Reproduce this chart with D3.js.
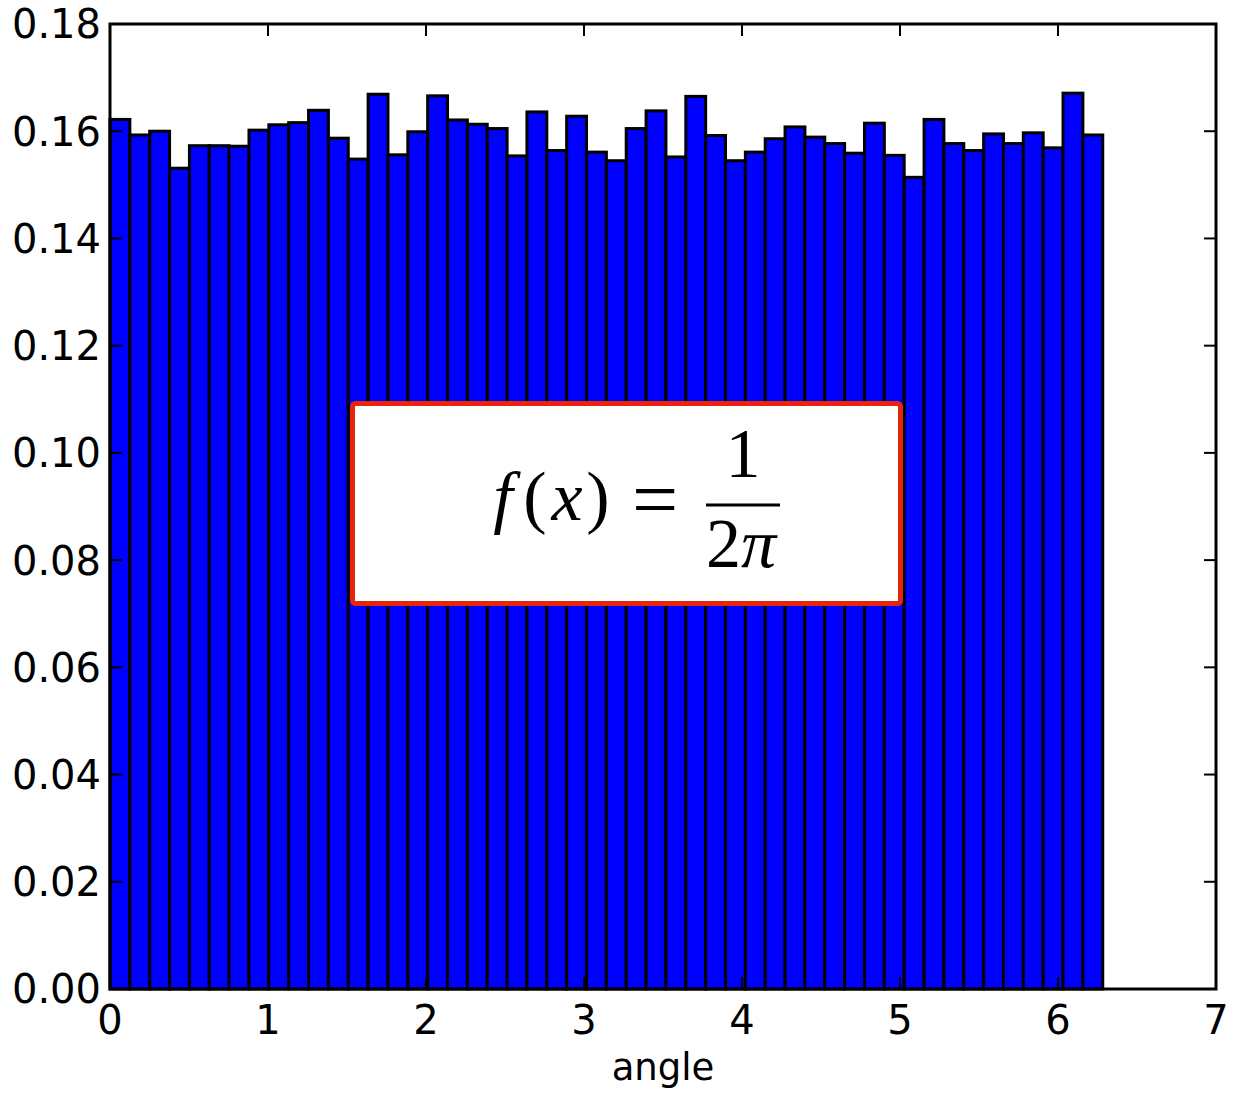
<!DOCTYPE html>
<html>
<head>
<meta charset="utf-8">
<script src="https://cdn.jsdelivr.net/npm/d3@7"></script>
<style>
  html, body { margin: 0; padding: 0; background: #fff; }
</style>
</head>
<body>
<svg id="chart" width="1236" height="1096"></svg>
<script>
// Normalised histogram of angles drawn uniformly from [0, 2π), 50 bins
const binCount = 50;
const rangeMax = 2 * Math.PI;
const densities = [
  0.1622, 0.1593, 0.1600, 0.1531, 0.1573, 0.1573, 0.1572, 0.1602, 0.1612, 0.1616,
  0.1639, 0.1587, 0.1548, 0.1669, 0.1556, 0.1599, 0.1666, 0.1621, 0.1613, 0.1605,
  0.1554, 0.1636, 0.1564, 0.1628, 0.1561, 0.1545, 0.1605, 0.1638, 0.1552, 0.1665,
  0.1592, 0.1545, 0.1561, 0.1586, 0.1608, 0.1589, 0.1577, 0.1559, 0.1615, 0.1555,
  0.1514, 0.1622, 0.1577, 0.1564, 0.1595, 0.1577, 0.1597, 0.1569, 0.1671, 0.1593
];
const xTicks = [0, 1, 2, 3, 4, 5, 6, 7];
const yTicks = [0, 0.02, 0.04, 0.06, 0.08, 0.10, 0.12, 0.14, 0.16, 0.18];
const xLabel = "angle";

(function draw() {
  const svg = d3.select("#chart");
  const sans = '"DejaVu Sans", sans-serif';
  const serif = '"Liberation Serif", "DejaVu Serif", serif';
  const plotL = 110, plotR = 1216, plotT = 24, plotB = 989;

  const x = d3.scaleLinear().domain([0, 7]).range([plotL, plotR]);
  const y = d3.scaleLinear().domain([0, 0.18]).range([plotB, plotT]);

  const binWidth = rangeMax / binCount;
  const bins = densities.map((v, i) => ({ x0: i * binWidth, x1: (i + 1) * binWidth, v }));

  // bars
  svg.append("g")
    .selectAll("rect")
    .data(bins)
    .join("rect")
    .attr("x", d => x(d.x0))
    .attr("y", d => y(d.v))
    .attr("width", d => x(d.x1) - x(d.x0))
    .attr("height", d => y(0) - y(d.v))
    .attr("fill", "#0000ff")
    .attr("stroke", "#000")
    .attr("stroke-width", 3)
    .attr("stroke-linejoin", "miter");

  // inward ticks on all four sides
  const tickLen = 12;
  const tickG = svg.append("g").attr("stroke", "#000").attr("stroke-width", 2);
  xTicks.forEach(t => {
    tickG.append("line").attr("x1", x(t)).attr("x2", x(t)).attr("y1", plotB).attr("y2", plotB - tickLen);
    tickG.append("line").attr("x1", x(t)).attr("x2", x(t)).attr("y1", plotT).attr("y2", plotT + tickLen);
  });
  yTicks.forEach(t => {
    tickG.append("line").attr("x1", plotL).attr("x2", plotL + tickLen).attr("y1", y(t)).attr("y2", y(t));
    tickG.append("line").attr("x1", plotR).attr("x2", plotR - tickLen).attr("y1", y(t)).attr("y2", y(t));
  });

  // frame
  svg.append("rect")
    .attr("x", plotL).attr("y", plotT)
    .attr("width", plotR - plotL).attr("height", plotB - plotT)
    .attr("fill", "none").attr("stroke", "#000").attr("stroke-width", 3);

  // tick labels
  const fmtY = d3.format(".2f");
  svg.append("g")
    .attr("font-family", sans)
    .selectAll("text")
    .data(yTicks)
    .join("text")
    .attr("x", plotL - 9)
    .attr("y", d => y(d))
    .attr("dy", "0.36em")
    .attr("text-anchor", "end")
    .attr("font-size", 40)
    .attr("fill", "#000")
    .text(d => fmtY(d));

  svg.append("g")
    .attr("font-family", sans)
    .selectAll("text")
    .data(xTicks)
    .join("text")
    .attr("x", d => x(d))
    .attr("y", 1034)
    .attr("text-anchor", "middle")
    .attr("font-size", 40)
    .attr("fill", "#000")
    .text(d => d);

  svg.append("text")
    .attr("font-family", sans)
    .attr("x", (plotL + plotR) / 2)
    .attr("y", 1080)
    .attr("text-anchor", "middle")
    .attr("font-size", 37)
    .attr("fill", "#000")
    .text(xLabel);

  // annotation box with the density formula
  const box = svg.append("g");
  box.append("rect")
    .attr("x", 352.5).attr("y", 403.5)
    .attr("width", 548).attr("height", 200)
    .attr("rx", 3)
    .attr("fill", "#fff")
    .attr("stroke", "#e5260c")
    .attr("stroke-width", 5);

  const eq = box.append("g")
    .attr("font-family", serif).attr("font-size", 70).attr("fill", "#000")
    .attr("text-anchor", "middle");
  eq.append("text").attr("x", 503).attr("y", 520).attr("font-style", "italic").text("f");
  eq.append("text").attr("x", 535).attr("y", 520).text("(");
  eq.append("text").attr("x", 567).attr("y", 520).attr("font-style", "italic").text("x");
  eq.append("text").attr("x", 598).attr("y", 520).text(")");
  eq.append("text").attr("x", 655).attr("y", 527).attr("font-size", 82).text("=");
  eq.append("line")
    .attr("x1", 706).attr("x2", 780).attr("y1", 505).attr("y2", 505)
    .attr("stroke", "#000").attr("stroke-width", 3);
  eq.append("text").attr("x", 743).attr("y", 477).text("1");
  const den = eq.append("text").attr("x", 741).attr("y", 567);
  den.append("tspan").text("2");
  den.append("tspan").attr("font-style", "italic").text("π");
})();
</script>
</body>
</html>
